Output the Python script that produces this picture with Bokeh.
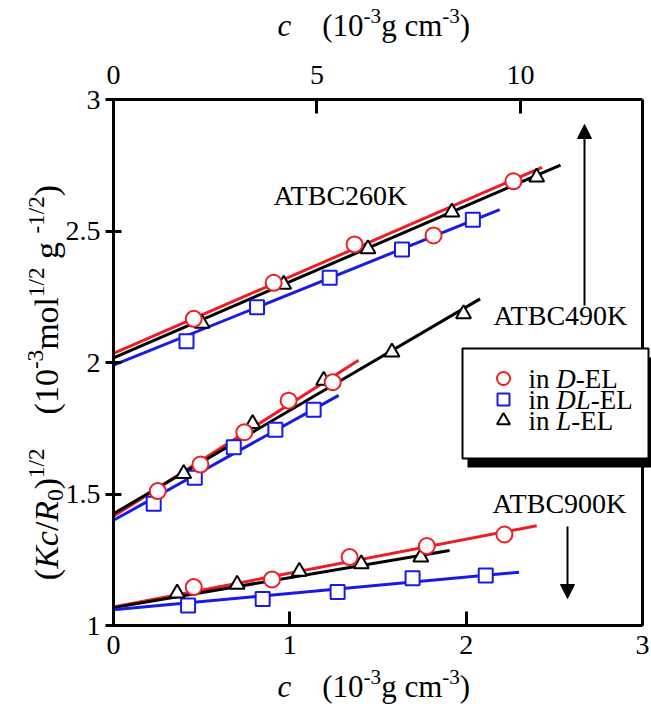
from bokeh.plotting import figure
from bokeh.models import Range1d, LinearAxis, FixedTicker, Label, Arrow, NormalHead
from bokeh.embed import file_html
from bokeh.resources import INLINE

# ---------------- data ----------------
# concentration c (10^-3 g cm^-3) and (Kc/R0)^1/2
D_260_c = [0.455, 0.908, 1.367, 1.815, 2.268]
D_260_v = [2.166, 2.303, 2.449, 2.483, 2.689]
D_490_c = [0.251, 0.493, 0.742, 0.993, 1.243]
D_490_v = [1.511, 1.612, 1.735, 1.855, 1.925]
D_900_c = [0.455, 0.899, 1.339, 1.777, 2.217]
D_900_v = [1.146, 1.175, 1.260, 1.302, 1.346]

DL_260_c = [0.414, 0.814, 1.226, 1.636, 2.038]
DL_260_v = [2.081, 2.210, 2.322, 2.430, 2.543]
DL_490_c = [0.228, 0.461, 0.682, 0.918, 1.135]
DL_490_v = [1.463, 1.562, 1.678, 1.744, 1.820]
DL_900_c = [0.423, 0.846, 1.271, 1.696, 2.111]
DL_900_v = [1.076, 1.101, 1.127, 1.180, 1.190]

L_260_c = [0.502, 0.965, 1.443, 1.919, 2.400]
L_260_v = [2.149, 2.297, 2.432, 2.572, 2.705]
L_490_c = [0.398, 0.789, 1.192, 1.579, 1.985]
L_490_v = [1.577, 1.767, 1.932, 2.039, 2.185]
L_900_c = [0.361, 0.701, 1.054, 1.405, 1.743]
L_900_v = [1.123, 1.156, 1.206, 1.234, 1.260]

# fitted straight lines: intercept, slope, last c
D_fit = [(2.035, 0.291, 2.43), (1.415, 0.427, 1.39), (1.070, 0.129, 2.40)]
DL_fit = [(1.990, 0.270, 2.19), (1.400, 0.372, 1.277), (1.060, 0.062, 2.30)]
L_fit = [(2.018, 0.289, 2.535), (1.425, 0.393, 2.079), (1.068, 0.114, 1.906)]

X_TICKS = [0, 1, 2, 3]
X_LABELS = ["0", "1", "2", "3"]
Y_TICKS = [1.0, 1.5, 2.0, 2.5, 3.0]
Y_LABELS = ["1", "1.5", "2", "2.5", "3"]
TOP_TICKS = [0, 5, 10]
TOP_LABELS = ["0", "5", "10"]
TOP_MAX = 13.0

SERIES_NAMES = ["D", "DL", "L"]
GROUP_NAMES = ["ATBC260K", "ATBC490K", "ATBC900K"]

RED = "#ee1d25"
BLUE = "#1a1ae8"
BLACK = "#000000"
FONT = "Liberation Serif"

# ---------------- figure (frame fills the canvas; axes fixed inside) ----------------
W, H = 651, 706
FL, FR, FT, FB = 113, 642, 99, 625          # the axes box, pixels
SX = (FR - FL) / 3.0
SY = (FB - FT) / 2.0
x0, x1 = -FL / SX, (W - FL) / SX
y0, y1 = 1 - (H - FB) / SY, 3 + FT / SY


def dx(px):
    return (px - FL) / SX


def dy(py):
    return 1 + (FB - py) / SY


p = figure(width=W, height=H, x_range=Range1d(x0, x1), y_range=Range1d(y0, y1),
           min_border=0, output_backend="svg", toolbar_location=None)
p.grid.visible = False
p.outline_line_color = None
p.background_fill_color = "white"
p.border_fill_color = "white"

bx = p.below[0]
ly = p.left[0]
bx.ticker = FixedTicker(ticks=X_TICKS)
bx.major_label_overrides = dict(zip(X_TICKS, X_LABELS))
bx.bounds = (0, 3)
bx.fixed_location = 1
ly.ticker = FixedTicker(ticks=Y_TICKS)
ly.major_label_overrides = dict(zip(Y_TICKS, Y_LABELS))
ly.bounds = (1, 3)
ly.fixed_location = 0

p.extra_x_ranges = {"top": Range1d(x0 * TOP_MAX / 3, x1 * TOP_MAX / 3)}
tx = LinearAxis(x_range_name="top", ticker=FixedTicker(ticks=TOP_TICKS), bounds=(0, TOP_MAX))
tx.major_label_overrides = dict(zip(TOP_TICKS, TOP_LABELS))
tx.fixed_location = 3
p.add_layout(tx, "above")

for ax in (bx, ly, tx):
    ax.axis_line_width = 3
    ax.axis_line_color = "black"
    ax.major_tick_line_width = 3
    ax.major_tick_line_color = "black"
    ax.minor_tick_in = 0
    ax.minor_tick_out = 0
    ax.major_label_text_font = FONT
    ax.major_label_text_font_size = "28px"
    ax.major_label_text_color = "black"
bx.major_tick_in = 14
bx.major_tick_out = 0
bx.major_label_standoff = 10
tx.major_tick_in = 14
tx.major_tick_out = 0
tx.major_label_standoff = 16
ly.major_tick_in = 8
ly.major_tick_out = 8
ly.major_label_standoff = 5

# right edge of the box
p.segment(x0=[3], y0=[1], x1=[3], y1=[3], line_width=3, line_color="black")

# ---------------- lines ----------------
for fits, col in ((D_fit, RED), (L_fit, BLACK), (DL_fit, BLUE)):
    for b, m, cend in fits:
        p.line([0, cend], [b, b + m * cend], line_color=col, line_width=3)

# ---------------- markers ----------------
def pts(cs, vs, marker, col, size):
    p.scatter(cs, vs, marker=marker, size=size, line_color=col, fill_color="white", line_width=2)

for cs, vs in ((DL_260_c, DL_260_v), (DL_490_c, DL_490_v), (DL_900_c, DL_900_v)):
    pts(cs, vs, "square", BLUE, 14)
for cs, vs in ((L_260_c, L_260_v), (L_490_c, L_490_v), (L_900_c, L_900_v)):
    pts(cs, vs, "triangle", BLACK, 15)
for cs, vs in ((D_260_c, D_260_v), (D_490_c, D_490_v), (D_900_c, D_900_v)):
    pts(cs, vs, "circle", RED, 16)

# ---------------- rich text helper ----------------
REG = {' ': 250, '(': 333, ')': 333, '-': 333, '.': 250, '/': 278, 'a': 444, 'b': 500,
       'c': 444, 'd': 500, 'e': 444, 'g': 500, 'i': 278, 'l': 278, 'm': 778, 'n': 500,
       'o': 500, 'A': 722, 'B': 667, 'C': 667, 'D': 722, 'E': 611, 'K': 722, 'L': 611,
       'R': 667, 'T': 611}
ITA = {'c': 444, 'K': 667, 'R': 611, 'D': 722, 'L': 556}
SMALL = 0.68


def tw(s, italic):
    t = 0
    for ch in s:
        if ch.isdigit():
            t += 500
        elif italic and ch in ITA:
            t += ITA[ch]
        else:
            t += REG.get(ch, 500)
    return t / 1000.0


def rich(segs, x, y, size, angle=0.0, align="left"):
    """segments placed side by side; (x, y) is the middle line of the normal-size text"""
    widths = []
    for text, ital, kind in segs:
        fs = size * (SMALL if kind != "n" else 1.0)
        widths.append(tw(text, ital) * fs)
    total = sum(widths)
    off = -total / 2 if align == "center" else 0.0
    for (text, ital, kind), w in zip(segs, widths):
        fs = size * (SMALL if kind != "n" else 1.0)
        if kind == "sup":
            shift = 0.42 * size + 0.34 * (fs - size)
        elif kind == "sub":
            shift = -0.15 * size + 0.34 * (fs - size)
        else:
            shift = 0.0
        if text.strip():
            if angle == 0:
                xo, yo = off, shift
            else:
                xo, yo = -shift, off
            p.add_layout(Label(x=x, y=y, x_offset=xo, y_offset=yo, text=text,
                               text_font=FONT, text_font_style="italic" if ital else "normal",
                               text_font_size=f"{fs:.1f}px", text_color="black",
                               angle=angle, text_baseline="middle", text_align="left"))
        off += w


# axis titles
xt = [("c", True, "n"), ("    ", False, "n"), ("(10", False, "n"), ("-3", False, "sup"),
      ("g cm", False, "n"), ("-3", False, "sup"), (")", False, "n")]
rich(xt, dx(277), dy(686), 31)
rich(xt, dx(277), dy(25), 31)

yt = [("(", False, "n"), ("Kc", True, "n"), ("/", False, "n"), ("R", True, "n"), ("0", False, "sub"),
      (")", False, "n"), ("1/2", False, "sup"), ("    ", False, "n"), ("(10", False, "n"),
      ("-3", False, "sup"), ("mol", False, "n"), ("1/2", False, "sup"), (" ", False, "n"),
      ("g", False, "n"), (" ", False, "n"), ("-1/2", False, "sup"), (")", False, "n")]
rich(yt, dx(46), dy(382), 34, angle=1.5707963, align="center")

# group labels
for txt, (gx, gy) in zip(GROUP_NAMES, ((273, 195), (493, 315), (492, 503))):
    p.add_layout(Label(x=dx(gx), y=dy(gy), text=txt, text_font=FONT, text_font_size="28px",
                       text_color="black", text_baseline="middle"))

# arrows
p.add_layout(Arrow(end=NormalHead(size=14, fill_color="black", line_color="black", line_width=1),
                   x_start=dx(584), y_start=dy(305), x_end=dx(584), y_end=dy(124),
                   line_width=2, line_color="black"))
p.add_layout(Arrow(end=NormalHead(size=14, fill_color="black", line_color="black", line_width=1),
                   x_start=dx(567), y_start=dy(526), x_end=dx(567), y_end=dy(598),
                   line_width=2, line_color="black"))

# ---------------- legend ----------------
LX0, LX1, LY0, LY1 = dx(462), dx(648), dy(458), dy(348)
SDX, SDY = 5 / SX, 9 / SY
p.quad(left=[LX0 + SDX], right=[LX1 + SDX], bottom=[LY0 - SDY], top=[LY1 - SDY],
       fill_color="black", line_color=None)
p.quad(left=[LX0], right=[LX1], bottom=[LY0], top=[LY1],
       fill_color="white", line_color="black", line_width=2)

rows_y = [dy(378), dy(399), dy(420)]
leg_markers = [("circle", RED, 13), ("square", BLUE, 12), ("triangle", BLACK, 13)]
for (mk, col, sz), yy in zip(leg_markers, rows_y):
    p.scatter([dx(503)], [yy], marker=mk, size=sz, line_color=col, fill_color="white", line_width=2)
for name, yy in zip(SERIES_NAMES, rows_y):
    segs = [("in", False, "n"), (" ", False, "n"), (name, True, "n"), ("-EL", False, "n")]
    rich(segs, dx(528), yy, 27)

open("out.html", "w").write(file_html(p, INLINE))
